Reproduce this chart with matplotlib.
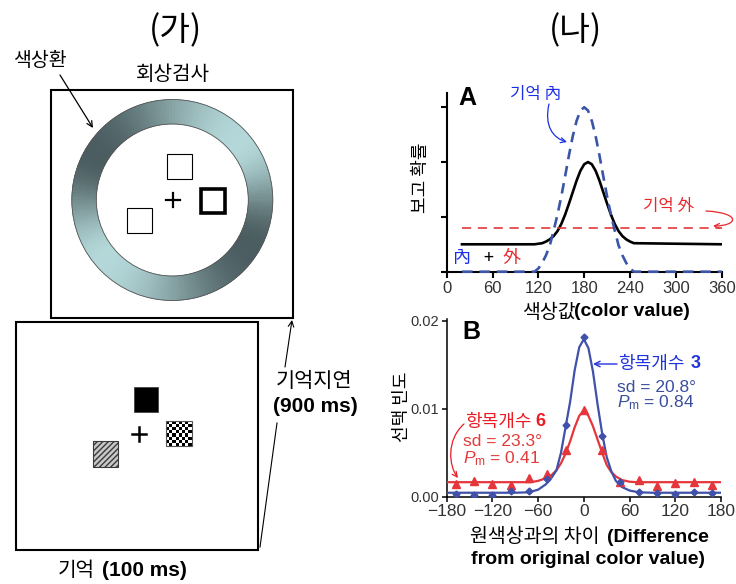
import numpy as np
import matplotlib.pyplot as plt
import matplotlib.colors as mcolors
from matplotlib.patches import Rectangle, Wedge, Circle, FancyArrowPatch
from matplotlib.path import Path

plt.rcParams['font.family'] = ['Noto Sans CJK KR', 'DejaVu Sans']
plt.rcParams['mathtext.fontset'] = 'custom'
plt.rcParams['mathtext.rm'] = 'Liberation Sans'
plt.rcParams['mathtext.it'] = 'Liberation Sans:italic'
plt.rcParams['hatch.linewidth'] = 1.0

LAT = ['Liberation Sans', 'DejaVu Sans']

# ---- 데이터: A (개념도) ----
a_x = [20, 115, 120, 125, 130, 135, 140, 145, 150, 155, 160, 165, 170, 175, 180,
       185, 190, 195, 200, 205, 210, 215, 220, 225, 230, 235, 240, 245, 360]
a_mix = [0.50, 0.50, 0.51, 0.52, 0.55, 0.59, 0.65, 0.74, 0.87, 1.04, 1.24, 1.45, 1.66, 1.84, 1.96, 2.00,
         1.96, 1.84, 1.66, 1.45, 1.24, 1.04, 0.87, 0.74, 0.65, 0.59, 0.55, 0.52, 0.50]
a_in = [0.0, 0.0, 0.06, 0.16, 0.30, 0.48, 0.75, 1.04, 1.37, 1.74, 2.12, 2.47, 2.75, 2.94, 3.00,
        2.94, 2.75, 2.47, 2.12, 1.74, 1.37, 1.04, 0.75, 0.48, 0.30, 0.16, 0.06, 0.0, 0.0]
a_out_x = [20, 360]
a_out = [0.79, 0.79]
a_ticks = [0, 60, 120, 180, 240, 300, 360]

# ---- 데이터: B (실험 결과) ----
b_pts_x = [-168, -144, -120, -96, -72, -48, -24, 0, 24, 48, 72, 96, 120, 144, 168]
b3_pts = [0.00026, 0.00015, 0.00015, 0.0006, 0.0006, 0.0020, 0.0082, 0.0182, 0.0069, 0.0017,
          0.0005, 0.00045, 0.0003, 0.0005, 0.00045]
b6_pts = [0.0015, 0.00177, 0.0014, 0.0013, 0.0021, 0.0026, 0.0053, 0.0098, 0.0053, 0.0017,
          0.0019, 0.0012, 0.0016, 0.0017, 0.0013]
b3_fit_x = [-180, -90, -72, -60, -50, -42, -36, -30, -24, -18, -12, -6, 0,
            6, 12, 18, 24, 30, 36, 42, 50, 60, 72, 90, 180]
b3_fit = [0.00045, 0.00045, 0.0005, 0.0008, 0.0014, 0.0022, 0.0030, 0.0050, 0.0079, 0.0108, 0.0144, 0.0170, 0.0179,
          0.0169, 0.0142, 0.0105, 0.0072, 0.0045, 0.0029, 0.0018, 0.0011, 0.0007, 0.0005, 0.00045, 0.00045]
b6_fit_x = [-180, -70, -60, -50, -42, -36, -30, -24, -18, -12, -6, 0,
            6, 12, 18, 24, 30, 36, 42, 50, 60, 70, 180]
b6_fit = [0.00165, 0.00165, 0.0018, 0.0021, 0.0025, 0.0030, 0.0038, 0.0049, 0.0063, 0.0079, 0.0092, 0.0098,
          0.0092, 0.0080, 0.0065, 0.0050, 0.0036, 0.0028, 0.0023, 0.0019, 0.0017, 0.00165, 0.00165]
b_xticks = [-180, -120, -60, 0, 60, 120, 180]
b_yticks = [0.0, 0.01, 0.02]

W, H = 736, 584
fig = plt.figure(figsize=(W / 100, H / 100), dpi=100)


def px_axes(x0, y0, x1, y1):
    # 픽셀 좌표(위쪽 원점)로 axes 배치
    return fig.add_axes([x0 / W, 1 - y1 / H, (x1 - x0) / W, (y1 - y0) / H])


bg = fig.add_axes([0, 0, 1, 1])
bg.set_xlim(0, W)
bg.set_ylim(H, 0)
bg.axis('off')

# ===== (가) =====
bg.text(175, 31, '(가)', fontsize=24, ha='center', va='center')
bg.text(13, 61, '색상환', fontsize=14, ha='left', va='center')
bg.text(173, 74, '회상검사', fontsize=14.5, ha='center', va='center')

bg.add_patch(Rectangle((51, 90), 242, 228, fill=False, lw=1.5, ec='black'))

# 색상환 (그라데이션 링)
cx, cy, r_out, r_in = 172.3, 200, 100.5, 76
light = np.array(mcolors.to_rgb('#b4d8d9'))
dark = np.array(mcolors.to_rgb('#4a5c5f'))
shade_ang = [40, 150, 220, 330, 400]   # 화면 각도(도), 밝음→어둠
shade_val = [0, 1, 0, 1, 0]
for k in range(180):
    t1, t2 = k * 2, k * 2 + 2.2
    phi = (-(k * 2 + 1)) % 360  # y축 반전 보정 (화면 각도)
    if phi < 40:
        phi += 360
    w = np.interp(phi, shade_ang, shade_val)
    w = 0.5 - 0.5 * np.cos(np.pi * w)
    col = light * (1 - w) + dark * w
    bg.add_patch(Wedge((cx, cy), r_out, t1, t2, width=r_out - r_in, fc=col, ec=col, lw=0.4))
bg.add_patch(Circle((cx, cy), r_out, fill=False, ec='#555555', lw=0.6))
bg.add_patch(Circle((cx, cy), r_in, fill=False, ec='#555555', lw=0.6))

bg.add_patch(Rectangle((166.7, 154), 25, 25, fc='white', ec='black', lw=0.8))
bg.add_patch(Rectangle((127, 208.3), 25, 25, fc='white', ec='black', lw=0.8))
bg.add_patch(Rectangle((200.5, 188.5), 24, 24, fc='white', ec='black', lw=2.6))
bg.plot([166, 180], [200, 200], color='black', lw=1.6)
bg.plot([173, 173], [193, 207], color='black', lw=1.6)

bg.annotate('', xy=(93, 128), xytext=(60, 75),
            arrowprops=dict(arrowstyle='->', lw=0.9, color='black', shrinkA=0, shrinkB=0))

# 기억 화면
bg.add_patch(Rectangle((16, 322.3), 242.3, 227.7, fill=False, lw=1.5, ec='black'))
bg.add_patch(Rectangle((134, 387.3), 24.3, 24.4, fc='black', ec='#444444', lw=0.6))
bg.plot([132, 146], [433.7, 433.7], color='black', lw=1.8)
bg.plot([139, 139], [426.7, 440.7], color='black', lw=1.8)
n = 8
cs = 25.5 / n
for i in range(n):
    for j in range(n):
        bg.add_patch(Rectangle((166 + i * cs, 420.7 + j * cs), cs, cs,
                               fc='black' if (i + j) % 2 == 0 else 'white', ec='none'))
bg.add_patch(Rectangle((166, 420.7), 25.5, 25.5, fill=False, ec='#555555', lw=0.8))
bg.add_patch(Rectangle((93.3, 441), 25, 25.5, fc='#c8c8c8', ec='#3a3a3a', lw=0.8, hatch='//////'))

bg.plot([260, 277], [547, 423], color='black', lw=0.8)
bg.annotate('', xy=(292, 320), xytext=(285, 367),
            arrowprops=dict(arrowstyle='->', lw=0.8, color='black', shrinkA=0, shrinkB=0))
bg.text(276, 381, '기억지연', fontsize=15, ha='left', va='center')
bg.text(273, 406, '(900 ms)', fontsize=15, ha='left', va='center', family=LAT, weight='bold')
bg.text(58, 570, '기억', fontsize=14.5, ha='left', va='center')
bg.text(102, 570, '(100 ms)', fontsize=15, ha='left', va='center', family=LAT, weight='bold')

# ===== (나) =====
bg.text(575, 31, '(나)', fontsize=24, ha='center', va='center')

BLUE_D = '#3b55a8'
RED_D = '#e2393c'

axA = px_axes(446.7, 93, 721.7, 271.7)
axA.patch.set_visible(False)
axA.plot(a_x, a_mix, color='black', lw=1.9, zorder=3)
axA.plot(a_x, a_in, color=BLUE_D, lw=1.9, ls=(0, (4, 2.6)), clip_on=False, zorder=4)
axA.plot(a_out_x, a_out, color=RED_D, lw=1.2, ls=(0, (5.5, 4)), zorder=3)
axA.set_xlim(0, 360)
axA.set_ylim(0, 3.26)
axA.set_xticks(a_ticks)
axA.set_yticks([0, 1, 2, 3])
axA.set_yticklabels([])
for s in ['top', 'right']:
    axA.spines[s].set_visible(False)
for s in ['left', 'bottom']:
    axA.spines[s].set_linewidth(1.5)
axA.tick_params(length=4, width=1.5, labelsize=12, labelcolor='#333333',
                labelfontfamily='Liberation Sans', pad=3)

bg.text(458, 98, 'A', fontsize=18, ha='left', va='center', family=LAT, weight='bold')
bg.text(510, 94, '기억 內', fontsize=12, ha='left', va='center', color='#1b2fe6')
bg.text(643, 207, '기억 外', fontsize=12, ha='left', va='center', color='#e8262c')
bg.text(453, 258, '內', fontsize=13, ha='left', va='center', color='#1b2fe6')
bg.text(488, 258, '+', fontsize=13, ha='center', va='center', color='black')
bg.text(502, 258, '外', fontsize=13, ha='left', va='center', color='#e8262c')
bg.text(421, 178, '보고 확률', fontsize=13, ha='center', va='center', rotation=90)
bg.text(522, 312, '색상값', fontsize=14, ha='left', va='center')
bg.text(574, 312, '(color value)', fontsize=14, ha='left', va='center', family=LAT, weight='bold')

arr_blue = Path([(549, 104), (544, 126), (553, 138), (567, 142)],
                [Path.MOVETO, Path.CURVE4, Path.CURVE4, Path.CURVE4])
bg.add_patch(FancyArrowPatch(path=arr_blue, arrowstyle='->', mutation_scale=9,
                             color='#1b2fe6', lw=0.9))
arr_red = Path([(706, 211), (742, 213), (738, 226), (713, 226)],
               [Path.MOVETO, Path.CURVE4, Path.CURVE4, Path.CURVE4])
bg.add_patch(FancyArrowPatch(path=arr_red, arrowstyle='->', mutation_scale=9,
                             color='#e8262c', lw=0.9))

# B
BLUE = '#3f51a8'
RED = '#e5363b'
axB = px_axes(446.7, 319, 721, 496.7)
axB.patch.set_visible(False)
axB.plot(b6_fit_x, b6_fit, color=RED, lw=1.6, zorder=3)
axB.plot(b3_fit_x, b3_fit, color=BLUE, lw=1.6, zorder=4)
axB.plot(b_pts_x, b6_pts, ls='none', marker='^', ms=5.5, color=RED, zorder=5)
axB.plot(b_pts_x, b3_pts, ls='none', marker='D', ms=3.5, color=BLUE, zorder=6)
axB.set_xlim(-180, 180)
axB.set_ylim(0, 0.0202)
axB.set_xticks(b_xticks)
axB.set_yticks(b_yticks)
axB.set_yticklabels(['0.00', '0.01', '0.02'])
for s in ['top', 'right']:
    axB.spines[s].set_visible(False)
for s in ['left', 'bottom']:
    axB.spines[s].set_linewidth(1.1)
axB.tick_params(length=3.5, width=1.1, labelcolor='#333333',
                labelfontfamily='Liberation Sans', pad=2)
axB.tick_params(axis='x', labelsize=12.5)
axB.tick_params(axis='y', labelsize=10.5)

bg.text(462, 332, 'B', fontsize=18, ha='left', va='center', family=LAT, weight='bold')
bg.text(402, 407, '선택 빈도', fontsize=13, ha='center', va='center', rotation=90)
bg.text(470, 537, '원색상과의 차이', fontsize=14, ha='left', va='center')
bg.text(607, 537, '(Difference', fontsize=14, ha='left', va='center', family=LAT, weight='bold')
bg.text(588, 560, 'from original color value)', fontsize=14, ha='center', va='center',
        family=LAT, weight='bold')

bg.annotate('', xy=(593, 364), xytext=(617, 364),
            arrowprops=dict(arrowstyle='->', lw=1.0, color='#2233dd', shrinkA=0, shrinkB=0))
bg.text(618, 364, '항목개수', fontsize=13, ha='left', va='center', color='#2233dd')
bg.text(691, 364, '3', fontsize=13, ha='left', va='center', color='#2233dd', family=LAT, weight='bold')
bg.text(617, 396, 'sd = 20.8°\n$P_\\mathrm{m}$ = 0.84', fontsize=12.5, ha='left', va='center',
        color='#3a4e9e', family=LAT, linespacing=0.95)

bg.text(465, 422, '항목개수', fontsize=13, ha='left', va='center', color='#ec1c24')
bg.text(535, 422, '6', fontsize=13, ha='left', va='center', color='#ec1c24', family=LAT, weight='bold')
bg.text(463, 451, 'sd = 23.3°\n$P_\\mathrm{m}$ = 0.41', fontsize=12.5, ha='left', va='center',
        color='#e23b3b', family=LAT, linespacing=0.95)
arr_red_b = Path([(464, 424), (446, 440), (449, 466), (458, 478)],
                 [Path.MOVETO, Path.CURVE4, Path.CURVE4, Path.CURVE4])
bg.add_patch(FancyArrowPatch(path=arr_red_b, arrowstyle='->', mutation_scale=9,
                             color='#ec1c24', lw=0.9))

fig.savefig('out.png', dpi=100)
